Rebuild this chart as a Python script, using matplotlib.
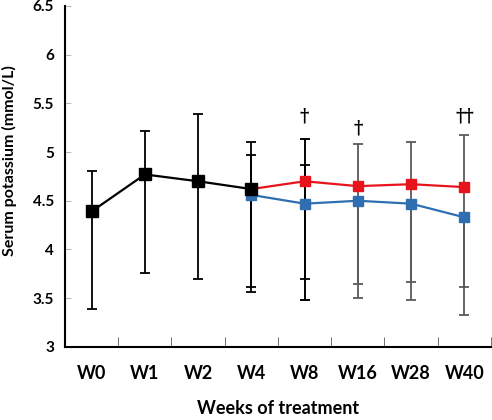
import numpy as np
import matplotlib
matplotlib.use('Agg')
import matplotlib.pyplot as plt

plt.rcParams['font.family'] = ['Lato', 'DejaVu Sans']

weeks = ['W0', 'W1', 'W2', 'W4', 'W8', 'W16', 'W28', 'W40']

# baseline period (single group)
base_mean = [4.39, 4.77, 4.70, 4.62]
base_upper = [4.81, 5.22, 5.39, 5.10]
base_lower = [3.39, 3.76, 3.70, 3.56]

# red group, W4..W40 (W4 shares the baseline point)
red_mean = [4.62, 4.70, 4.65, 4.67, 4.64]
red_upper = [5.10, 5.13, 5.08, 5.10, 5.18]
red_lower = [3.56, 3.48, 3.50, 3.48, 3.33]

# blue group, W4..W40 (upper whisker visible only at W4 and W8)
blue_mean = [4.56, 4.47, 4.50, 4.47, 4.33]
blue_upper = [4.97, 4.87]
blue_lower = [3.62, 3.70, 3.65, 3.67, 3.62]

marks = {'W8': '†', 'W16': '†', 'W40': '††'}
mark_y = [5.36, 5.24, 5.36]

fig = plt.figure(figsize=(4.92, 4.2), dpi=100)
ax = fig.add_axes([0.132, 0.174, 0.866, 0.812])

x = np.arange(len(weeks))
xb = x[:4]
xl = x[3:]

red = '#e8141c'
blue = '#2f6fb1'
grey = '#5a5a5a'

def whisker(xs, mean, low, up, color):
    m = np.array(mean, dtype=float)
    yerr = [m - np.array(low, dtype=float), np.array(up, dtype=float) - m]
    ax.errorbar(xs, m, yerr=yerr, fmt='none', ecolor=color, elinewidth=1.3,
                capsize=3.5, capthick=1.3, zorder=2)

whisker(xb, base_mean, base_lower, base_upper, 'black')
whisker(xl[1:], red_mean[1:], red_lower[1:], red_upper[1:], grey)
whisker(xl[2:], blue_mean[2:], blue_lower[2:], blue_mean[2:], grey)
whisker(xl[:2], blue_mean[:2], blue_lower[:2], blue_upper, 'black')
whisker(xl[1:2], red_mean[1:2], red_lower[1:2], red_upper[1:2], 'black')

ax.plot(xl, blue_mean, color=blue, lw=1.6, marker='s', ms=7.5, zorder=3)
ax.plot(xl, red_mean, color=red, lw=1.6, zorder=3)
ax.plot(xl[1:], red_mean[1:], color=red, lw=0, marker='s', ms=7.5, zorder=4)
ax.plot(xb, base_mean, color='black', lw=1.6, marker='s', ms=8.5, zorder=5)

for (lab, sym), yy in zip(marks.items(), mark_y):
    ax.text(weeks.index(lab), yy, sym, ha='center', va='center',
            fontsize=13, fontweight='bold', family='DejaVu Serif')

ax.set_xlim(-0.5, 7.5)
ax.set_ylim(3, 6.5)
ax.set_yticks([3, 3.5, 4, 4.5, 5, 5.5, 6, 6.5])
ax.set_yticklabels(['3', '3.5', '4', '4.5', '5', '5.5', '6', '6.5'],
                   fontsize=11, fontweight='bold')
ax.set_xticks(x)
ax.set_xticklabels(weeks, fontsize=13, fontweight='bold')
ax.set_xticks(np.arange(0.5, 8, 1), minor=True)
ax.tick_params(axis='x', which='major', length=0, pad=13)
ax.tick_params(axis='x', which='minor', direction='in', length=7, color=grey)
ax.tick_params(axis='y', direction='in', length=4, color='#bbbbbb', pad=8)

for s in ['top', 'right']:
    ax.spines[s].set_visible(False)
ax.spines['left'].set_linewidth(1.5)
ax.spines['bottom'].set_linewidth(1.5)

ax.set_ylabel('Serum potassium (mmol/L)', fontsize=11.5, fontweight='bold')
ax.yaxis.set_label_coords(-0.113, 0.545)
ax.set_xlabel('Weeks of treatment', fontsize=13, fontweight='bold')
ax.xaxis.set_label_coords(0.5, -0.157)

fig.savefig('out.png', dpi=100)
